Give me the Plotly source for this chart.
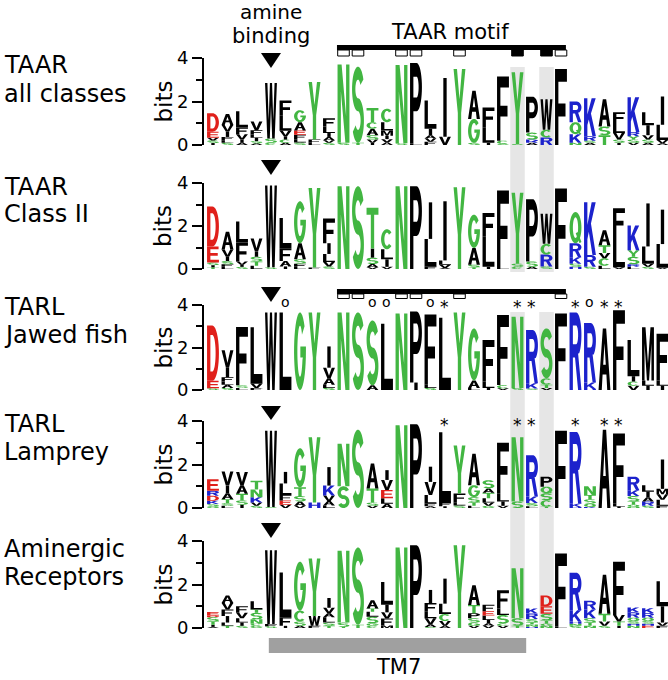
import math
import plotly.graph_objects as go

# ---------------- data ----------------
ROW_TITLES = [["TAAR", "all classes"], ["TAAR", "Class II"], ["TARL", "Jawed fish"],
              ["TARL", "Lamprey"], ["Aminergic", "Receptors"]]

# each column: residues from top to bottom with their height in bits
TAAR_ALL = [
    [("D", .85), ("E", .28), ("V", .12), ("S", .12), ("I", .09)],
    [("A", .50), ("V", .30), ("I", .25), ("F", .15), ("L", .12), ("S", .10)],
    [("L", .75), ("F", .30), ("V", .25), ("I", .15), ("A", .10)],
    [("V", .40), ("F", .20), ("L", .15), ("I", .15), ("S", .10), ("A", .08)],
    [("W", 2.55), ("S", .20), ("C", .10)],
    [("F", .70), ("L", .70), ("V", .25), ("I", .15), ("C", .15), ("A", .10)],
    [("G", .55), ("A", .38), ("E", .20), ("F", .20), ("L", .15), ("S", .12)],
    [("Y", 2.65), ("F", .15), ("L", .10)],
    [("F", .38), ("L", .30), ("I", .18), ("A", .15), ("V", .12), ("S", .10)],
    [("N", 3.60), ("S", .10)],
    [("S", 3.50), ("T", .10)],
    [("T", .65), ("C", .30), ("A", .30), ("S", .20), ("V", .15), ("I", .10)],
    [("C", .62), ("L", .38), ("M", .25), ("I", .15), ("V", .15), ("A", .12)],
    [("N", 3.60), ("S", .08)],
    [("P", 3.70), ("L", .07)],
    [("L", 1.30), ("I", .30), ("A", .15), ("V", .15), ("F", .15)],
    [("I", 2.70), ("V", .38)],
    [("Y", 3.50)],
    [("A", 1.30), ("G", 1.10), ("S", .10)],
    [("F", .90), ("L", .72), ("I", .10)],
    [("F", 2.95), ("C", .15), ("S", .05)],
    [("Y", 3.30), ("S", .05)],
    [("P", 1.65), ("S", .32), ("R", .15), ("A", .10)],
    [("W", 1.40), ("C", .35), ("R", .35)],
    [("F", 3.50)],
    [("R", .95), ("Q", .55), ("K", .40), ("N", .10)],
    [("K", 1.75), ("R", .20), ("S", .10), ("A", .10)],
    [("A", 1.25), ("S", .40), ("T", .45)],
    [("F", .50), ("L", .46), ("V", .30), ("S", .15), ("I", .10)],
    [("K", 1.60), ("R", .20), ("Y", .15), ("S", .15), ("V", .10)],
    [("L", .60), ("I", .46), ("V", .20), ("S", .15), ("A", .10)],
    [("I", 1.30), ("L", .70), ("V", .15), ("A", .08)],
]

TAAR_CLASS2 = [
    [("D", 1.86), ("E", .75), ("S", .12), ("I", .10), ("T", .08)],
    [("A", .82), ("V", .34), ("I", .20), ("S", .15), ("F", .12), ("L", .10)],
    [("L", .98), ("F", .88), ("V", .15), ("I", .10), ("S", .10)],
    [("V", .60), ("I", .25), ("S", .22), ("T", .20), ("L", .15)],
    [("W", 3.80), ("S", .08)],
    [("L", 1.40), ("F", .60), ("A", .25), ("I", .12)],
    [("G", 1.95), ("A", .75), ("S", .20), ("F", .15), ("L", .10)],
    [("Y", 3.70), ("F", .07)],
    [("F", 1.15), ("I", .50), ("L", .38), ("V", .20), ("S", .12)],
    [("N", 3.85)],
    [("S", 3.85)],
    [("T", 1.90), ("I", .42), ("S", .30), ("A", .15), ("V", .08)],
    [("C", .93), ("L", .47), ("I", .35), ("V", .10)],
    [("N", 3.85)],
    [("P", 3.85)],
    [("I", 1.70), ("L", 1.30), ("F", .10)],
    [("I", 2.75), ("L", .20), ("V", .15), ("A", .05)],
    [("Y", 3.80)],
    [("G", 1.55), ("A", .78), ("S", .12), ("T", .08)],
    [("F", 1.10), ("L", 1.40), ("I", .10)],
    [("F", 3.60), ("L", .05)],
    [("Y", 3.30), ("S", .15), ("C", .10)],
    [("P", 2.90), ("S", .25), ("A", .10)],
    [("W", 1.40), ("C", .50), ("R", .55), ("S", .12)],
    [("F", 3.75)],
    [("Q", 1.45), ("R", .65), ("K", .30), ("S", .15), ("H", .10)],
    [("K", 2.45), ("R", .55), ("S", .10)],
    [("A", .70), ("T", .35), ("V", .25), ("C", .35), ("L", .15)],
    [("F", 1.30), ("L", 1.45), ("V", .08)],
    [("K", 1.15), ("Y", .30), ("S", .35), ("R", .12), ("L", .10)],
    [("I", 2.00), ("L", .80), ("V", .15), ("S", .10)],
    [("I", 1.60), ("L", 1.10), ("V", .06)],
]

TARL_FISH = [
    [("D", 2.60), ("E", .35), ("S", .08)],
    [("V", .80), ("I", .47), ("F", .20), ("L", .15), ("A", .15), ("S", .10)],
    [("F", 2.75), ("S", .12), ("L", .10)],
    [("L", 2.65), ("V", .20), ("F", .10)],
    [("W", 3.65)],
    [("L", 3.65)],
    [("G", 3.65)],
    [("Y", 3.65)],
    [("I", 1.00), ("V", .50), ("A", .30), ("L", .15), ("S", .10)],
    [("N", 3.65)],
    [("S", 3.65)],
    [("S", 3.05), ("A", .22)],
    [("L", 3.12)],
    [("N", 3.60)],
    [("P", 3.35), ("I", .35)],
    [("F", 3.30), ("L", .15), ("S", .10)],
    [("L", 3.40)],
    [("Y", 3.65)],
    [("G", 2.45), ("A", .35), ("L", .10)],
    [("F", 1.95), ("L", .30), ("I", .10)],
    [("F", 3.30), ("C", .15), ("V", .08)],
    [("N", 3.35), ("S", .10)],
    [("R", 2.50), ("K", .25), ("S", .07)],
    [("S", 2.35), ("C", .30), ("T", .15), ("V", .10)],
    [("F", 3.60)],
    [("R", 3.65)],
    [("R", 2.80), ("K", .30), ("H", .05)],
    [("A", 2.90)],
    [("F", 3.75)],
    [("L", 1.70), ("I", .25), ("C", .20), ("V", .20)],
    [("M", 2.50), ("L", .25), ("I", .20)],
    [("F", 2.20), ("L", .25), ("I", .20)],
]

TARL_LAMPREY = [
    [("E", .53), ("R", .23), ("D", .23), ("K", .15), ("S", .10), ("Q", .08)],
    [("V", .65), ("I", .35), ("A", .28), ("T", .18), ("S", .12), ("L", .10)],
    [("V", .60), ("A", .40), ("T", .30), ("S", .20), ("I", .15)],
    [("T", .40), ("N", .35), ("K", .25), ("V", .15), ("S", .10)],
    [("W", 3.50), ("S", .05)],
    [("I", .53), ("L", .53), ("F", .25), ("E", .20), ("V", .15)],
    [("G", 1.80), ("T", .40), ("S", .25), ("A", .20), ("V", .10)],
    [("Y", 3.00), ("H", .25)],
    [("I", .85), ("K", .46), ("V", .25), ("A", .20), ("L", .12)],
    [("N", 1.95), ("S", 1.00)],
    [("S", 3.60)],
    [("A", 1.15), ("T", .65), ("S", .15), ("V", .10)],
    [("I", .45), ("V", .46), ("E", .38), ("L", .25), ("A", .20)],
    [("N", 3.80)],
    [("P", 3.85)],
    [("I", .70), ("V", .60), ("L", .40), ("F", .12), ("A", .08)],
    [("L", 3.25), ("F", .15), ("I", .08)],
    [("Y", 2.20), ("F", .40), ("L", .15), ("S", .12)],
    [("A", 1.45), ("G", .55), ("S", .25), ("T", .15), ("L", .10)],
    [("S", .38), ("A", .20), ("T", .25), ("L", .20), ("V", .15), ("G", .10)],
    [("F", 2.35), ("L", .35), ("I", .20), ("V", .10)],
    [("N", 2.95), ("S", .30)],
    [("R", 1.90), ("K", .30), ("S", .15), ("L", .08)],
    [("P", .46), ("Q", .30), ("S", .32), ("C", .30), ("T", .06)],
    [("F", 3.55)],
    [("R", 3.30), ("K", .15), ("H", .05)],
    [("N", .40), ("T", .20), ("S", .20), ("Q", .15), ("K", .05)],
    [("A", 3.60)],
    [("F", 3.20), ("L", .15), ("I", .07)],
    [("R", .62), ("K", .27), ("S", .25), ("T", .15), ("Q", .10), ("N", .05)],
    [("L", .30), ("I", .25), ("A", .20), ("R", .20), ("S", .10)],
    [("I", 1.35), ("M", .25), ("V", .25), ("L", .28), ("F", .10)],
]

AMINERGIC = [
    [("E", .15), ("D", .08), ("S", .20), ("T", .15), ("I", .10), ("A", .05)],
    [("A", .35), ("V", .30), ("F", .30), ("I", .30), ("L", .15), ("T", .10)],
    [("F", .30), ("V", .25), ("L", .20), ("I", .15), ("S", .10)],
    [("L", .38), ("T", .15), ("S", .30), ("N", .20), ("C", .10), ("G", .10)],
    [("W", 3.40), ("F", .10), ("S", .08)],
    [("L", 2.05), ("F", .40), ("I", .10)],
    [("G", 2.25), ("C", .50), ("S", .20), ("A", .10)],
    [("Y", 2.65), ("W", .45), ("F", .10)],
    [("I", .45), ("V", .25), ("A", .18), ("L", .25), ("S", .15), ("T", .10)],
    [("N", 3.30), ("S", .20), ("T", .05)],
    [("S", 3.55), ("T", .15)],
    [("A", .38), ("T", .15), ("L", .23), ("S", .30), ("G", .12), ("C", .10)],
    [("L", 1.05), ("I", .35), ("V", .28), ("F", .32), ("M", .12)],
    [("N", 3.70)],
    [("P", 3.80)],
    [("I", .60), ("F", .40), ("L", .30), ("V", .28), ("A", .12), ("S", .05)],
    [("I", 1.15), ("L", .48), ("C", .32), ("V", .22), ("A", .10)],
    [("Y", 3.80)],
    [("A", .90), ("T", .38), ("P", .23), ("S", .20), ("G", .15), ("V", .10)],
    [("F", .30), ("E", .20), ("L", .20), ("I", .15), ("A", .12), ("V", .10)],
    [("F", .84), ("L", .30), ("S", .40), ("C", .10), ("V", .10)],
    [("N", 2.30), ("S", .35), ("T", .10)],
    [("K", .23), ("R", .26), ("S", .15), ("T", .10), ("N", .10), ("H", .06)],
    [("D", .50), ("E", .35), ("S", .30), ("T", .15), ("G", .10), ("N", .10)],
    [("F", 3.35), ("L", .07)],
    [("R", 1.72), ("K", .52), ("H", .10), ("N", .10), ("S", .10)],
    [("R", .40), ("K", .40), ("S", .20), ("T", .15), ("N", .10)],
    [("A", 1.80), ("T", .35), ("V", .20), ("S", .10)],
    [("F", 2.45), ("V", .30), ("T", .20), ("I", .10)],
    [("K", .22), ("R", .25), ("Q", .15), ("S", .12), ("H", .10), ("N", .10)],
    [("K", .22), ("R", .22), ("Q", .15), ("S", .12), ("H", .10), ("E", .10)],
    [("L", 1.15), ("I", .75), ("V", .15), ("F", .10)],
]

ROWS = [TAAR_ALL, TAAR_CLASS2, TARL_FISH, TARL_LAMPREY, AMINERGIC]

MOTIF_OPEN = [9, 10, 13, 14, 17, 24]
MOTIF_FILLED_ROW1 = [21, 23]
HIGHLIGHT_COLS = [21, 23]
AMINE_COL = 4
ROW3_CIRCLES = [5, 11, 12, 15, 26]
ROW3_STARS = [16, 21, 22, 25, 27, 28]
ROW4_STARS = [16, 21, 22, 25, 27, 28]

# ---------------- styling / geometry ----------------
W_PX, H_PX = 668, 680
FONT = "DejaVu Sans"
GREEN, BLUE, RED, BLACK = "#42b642", "#1c22cc", "#e0201b", "#000000"
COLOR = {}
for c in "AVLIPWFM":
    COLOR[c] = BLACK
for c in "GSTYCNQ":
    COLOR[c] = GREEN
for c in "KRH":
    COLOR[c] = BLUE
for c in "DE":
    COLOR[c] = RED

Y4_PX = [58, 183, 305, 421, 541]
Y0_PX = [145, 269, 390, 508, 628]
X_LEFT_PX = 204
X_RANGE = [-0.62, 31.38]


def px_y(p):
    return 1 - p / H_PX


def px_x(p):
    return p / W_PX


# ---------------- glyph outlines (unit box) ----------------
SX, SY = 0.28, 0.17


def arc(cx, cy, rx, ry, a0, a1, step=9):
    n = max(2, int(math.ceil(abs(a1 - a0) / step)))
    out = []
    for k in range(n + 1):
        a = math.radians(a0 + (a1 - a0) * k / n)
        out.append((cx + rx * math.cos(a), cy + ry * math.sin(a)))
    return out


def build_glyphs():
    g = {}
    m = 0.5
    g["L"] = [[[(0, 0), (1, 0), (1, SY), (SX, SY), (SX, 1), (0, 1)]]]
    g["I"] = [[[(0.36, 0), (0.64, 0), (0.64, 1), (0.36, 1)]]]
    g["E"] = [[[(0, 0), (1, 0), (1, SY), (SX, SY), (SX, m - SY / 2), (0.9, m - SY / 2), (0.9, m + SY / 2),
                (SX, m + SY / 2), (SX, 1 - SY), (0.97, 1 - SY), (0.97, 1), (0, 1)]]]
    fm = 0.46
    g["F"] = [[[(0, 0), (SX, 0), (SX, fm - SY / 2), (0.88, fm - SY / 2), (0.88, fm + SY / 2), (SX, fm + SY / 2),
                (SX, 1 - SY), (1, 1 - SY), (1, 1), (0, 1)]]]
    g["T"] = [[[(0.5 - SX / 2, 0), (0.5 + SX / 2, 0), (0.5 + SX / 2, 1 - SY), (1, 1 - SY), (1, 1), (0, 1),
                (0, 1 - SY), (0.5 - SX / 2, 1 - SY)]]]
    g["H"] = [[[(0, 0), (SX, 0), (SX, m - SY / 2), (1 - SX, m - SY / 2), (1 - SX, 0), (1, 0), (1, 1), (1 - SX, 1),
                (1 - SX, m + SY / 2), (SX, m + SY / 2), (SX, 1), (0, 1)]]]
    g["N"] = [[[(0, 0), (SX, 0), (SX, 0.66), (1 - SX - 0.06, 0), (1, 0), (1, 1), (1 - SX, 1), (1 - SX, 0.34),
                (SX + 0.06, 1), (0, 1)]]]
    g["M"] = [[[(0, 0), (0.21, 0), (0.21, 0.7), (0.41, 0), (0.59, 0), (0.79, 0.7), (0.79, 0), (1, 0), (1, 1),
                (0.71, 1), (0.5, 0.32), (0.29, 1), (0, 1)]]]
    g["W"] = [[[(0, 1), (0.2, 1), (0.31, 0.33), (0.41, 1), (0.59, 1), (0.69, 0.33), (0.8, 1), (1, 1), (0.81, 0),
                (0.6, 0), (0.5, 0.6), (0.4, 0), (0.19, 0)]]]
    g["V"] = [[[(0, 1), (0.27, 1), (0.5, 0.25), (0.73, 1), (1, 1), (0.64, 0), (0.36, 0)]]]
    g["Y"] = [[[(0, 1), (0.29, 1), (0.5, 0.6), (0.71, 1), (1, 1), (0.64, 0.42), (0.64, 0), (0.36, 0),
                (0.36, 0.42)]]]
    g["K"] = [[[(0, 0), (SX, 0), (SX, 0.3), (0.4, 0.44), (0.71, 0), (1, 0), (0.58, 0.6), (0.98, 1), (0.64, 1),
                (SX, 0.57), (SX, 1), (0, 1)]]]
    g["A"] = [[[(0, 0), (0.27, 0), (0.34, 0.25), (0.66, 0.25), (0.73, 0), (1, 0), (0.64, 1), (0.36, 1)],
               [(0.39, 0.41), (0.61, 0.41), (0.5, 0.76)]]]
    g["C"] = [[arc(.5, .5, .5, .5, 42, 318) + arc(.5, .5, .5 - SX, .5 - SY, 318, 42)]]
    ring = [arc(.5, .5, .5, .5, 0, 360), arc(.5, .5, .5 - SX, .5 - SY, 0, 360)]
    g["Q"] = [ring, [[(0.52, 0.32), (0.68, 0.36), (1.0, 0.04), (0.84, 0.0)]]]
    g["G"] = [[arc(.5, .5, .5, .5, 40, 360) + [(1, 0.56), (0.53, 0.56), (0.53, 0.42), (0.74, 0.42)]
               + arc(.5, .5, .5 - SX, .5 - SY, 340, 40)]]
    hx, hy = SX / 2, SY / 2
    cy1 = (1 - hy + 0.5) / 2
    cy2 = (0.5 + hy) / 2
    ry = (1 - hy - 0.5) / 2
    rx = 0.5 - hx
    side_a = arc(.5, cy1, rx + hx, ry + hy, 25, 270) + arc(.5, cy2, rx - hx, ry - hy, 90, -150)
    side_b = arc(.5, cy1, rx - hx, ry - hy, 25, 270) + arc(.5, cy2, rx + hx, ry + hy, 90, -150)
    g["S"] = [[side_a + side_b[::-1]]]
    g["D"] = [[[(0, 0), (0.45, 0)] + arc(0.45, 0.5, 0.55, 0.5, -90, 90) + [(0, 1)],
               [(SX, SY)] + arc(0.45, 0.5, 0.55 - SX, 0.5 - SY, -90, 90) + [(SX, 1 - SY)]]]
    g["P"] = [[[(0, 0), (SX, 0), (SX, 0.4)] + arc(0.55, 0.7, 0.45, 0.3, -90, 90) + [(0, 1)],
               [(SX, 0.4 + SY)] + arc(0.55, 0.7, 0.45 - SX, 0.3 - SY, -90, 90) + [(SX, 1 - SY)]]]
    g["R"] = [[[(0, 0), (SX, 0), (SX, 0.42), (0.46, 0.42), (0.72, 0), (1, 0), (0.72, 0.47)]
               + arc(0.56, 0.71, 0.44, 0.29, -55, 90) + [(0, 1)],
               [(SX, 0.42 + SY)] + arc(0.56, 0.71, 0.44 - SX, 0.29 - SY, -90, 90) + [(SX, 1 - SY)]]]
    return g


GLYPHS = build_glyphs()
GLYPH_W = 0.82


def glyph_paths(letter, xc, base, h):
    x0 = xc - GLYPH_W / 2
    paths = []
    for sub in GLYPHS[letter]:
        s = ""
        for poly in sub:
            pts = [(x0 + gx * GLYPH_W, base + gy * h) for gx, gy in poly]
            s += "M" + "L".join(f"{x:.3f},{y:.4f}" for x, y in pts) + "Z"
        paths.append(s)
    return paths


# ---------------- figure ----------------
fig = go.Figure()
shapes = []
annotations = []
layout_axes = {}

for r, row in enumerate(ROWS):
    n = "" if r == 0 else str(r + 1)
    xa, ya = "x" + n, "y" + n
    layout_axes["xaxis" + n] = dict(domain=[px_x(X_LEFT_PX), 1], range=X_RANGE, visible=False,
                                    anchor=ya, fixedrange=True, automargin=False)
    layout_axes["yaxis" + n] = dict(
        domain=[px_y(Y0_PX[r]), px_y(Y4_PX[r])], range=[0, 4], anchor=xa, automargin=False,
        showline=True, linewidth=2, linecolor="black", ticks="outside", ticklen=10, tickwidth=2,
        tickcolor="black", tickvals=[0, 2, 4], showgrid=False, zeroline=False,
        tickfont=dict(family=FONT, size=18, color="black"), fixedrange=True,
        minor=dict(tickvals=[1, 3], ticks="outside", ticklen=6, tickwidth=2, tickcolor="black", showgrid=False))
    fig.add_trace(go.Scatter(x=[None], y=[None], xaxis=xa, yaxis=ya, showlegend=False, hoverinfo="skip"))

    for i, col in enumerate(row):
        base = 0.0
        for letter, h in reversed(col):
            for p in glyph_paths(letter, i, base, h):
                shapes.append(dict(type="path", path=p, xref=xa, yref=ya, fillcolor=COLOR[letter],
                                   line=dict(width=0), layer="above"))
            base += h

    # row titles
    base1 = [73, 195, 315, 432, 557][r]
    base2 = [102, 222, 343, 460, 585][r]
    for txt, bl in ((ROW_TITLES[r][0], base1), (ROW_TITLES[r][1], base2)):
        annotations.append(dict(text=txt, x=px_x(2), y=px_y(bl - 0.346 * 24), xref="paper", yref="paper",
                                xanchor="left", yanchor="middle", showarrow=False,
                                font=dict(family=FONT, size=24, color="black")))
    # "bits"
    annotations.append(dict(text="bits", x=px_x(163), y=px_y((Y0_PX[r] + Y4_PX[r]) / 2), xref="paper",
                            yref="paper", xanchor="center", yanchor="middle", textangle=-90, showarrow=False,
                            font=dict(family=FONT, size=23, color="black")))

# amine-binding triangles
TRI_PX = [(53, 68), (160, 175), (287, 302), (406, 420), (523, 538)]
for top, bot in TRI_PX:
    shapes.append(dict(type="path", xref="x", yref="paper",
                       path=f"M{AMINE_COL - 0.69},{px_y(top)}L{AMINE_COL + 0.69},{px_y(top)}L{AMINE_COL},{px_y(bot)}Z",
                       fillcolor="black", line=dict(width=0)))

# highlighted columns
for c in HIGHLIGHT_COLS:
    for top, bot in ((67, 272), (312, 628)):
        shapes.append(dict(type="rect", xref="x", yref="paper", x0=c - 0.5, x1=c + 0.5, y0=px_y(bot), y1=px_y(top),
                           fillcolor="#e6e6e6", line=dict(width=0), layer="below"))

# motif bars with boxes
for bar_top, bar_bot, box_bot, filled in ((45, 50, 56, MOTIF_FILLED_ROW1), (289, 294, 298.5, [])):
    shapes.append(dict(type="rect", xref="x", yref="paper", x0=8.55, x1=24.34, y0=px_y(bar_bot), y1=px_y(bar_top),
                       fillcolor="black", line=dict(width=0)))
    for c in MOTIF_OPEN:
        shapes.append(dict(type="rect", xref="x", yref="paper", x0=c - 0.4, x1=c + 0.4, y0=px_y(box_bot),
                           y1=px_y(bar_bot), fillcolor="white", line=dict(width=1, color="black")))
    for c in filled:
        shapes.append(dict(type="rect", xref="x", yref="paper", x0=c - 0.4, x1=c + 0.4, y0=px_y(box_bot),
                           y1=px_y(bar_bot), fillcolor="black", line=dict(width=1, color="black")))

# TM7 bar
shapes.append(dict(type="rect", xref="x", yref="paper", x0=3.85, x1=21.6, y0=px_y(653), y1=px_y(638),
                   fillcolor="#a0a0a0", line=dict(width=0)))

# markers (o / *)
for c in ROW3_CIRCLES:
    annotations.append(dict(text="o", x=c, y=px_y(302), xref="x", yref="paper", showarrow=False,
                            xanchor="center", yanchor="middle", font=dict(family=FONT, size=14, color="black")))
for c in ROW3_STARS:
    annotations.append(dict(text="*", x=c, y=px_y(307), xref="x", yref="paper", showarrow=False,
                            xanchor="center", yanchor="middle", font=dict(family=FONT, size=17, color="black")))
for c in ROW4_STARS:
    annotations.append(dict(text="*", x=c, y=px_y(425), xref="x", yref="paper", showarrow=False,
                            xanchor="center", yanchor="middle", font=dict(family=FONT, size=17, color="black")))

# header / footer texts
for txt, x, bl, size in (("amine", AMINE_COL, 19, 20), ("binding", AMINE_COL, 43, 21),
                         ("TAAR motif", 16.35, 39, 21), ("TM7", 12.76, 674, 21)):
    annotations.append(dict(text=txt, x=x, y=px_y(bl - 0.346 * size), xref="x", yref="paper", showarrow=False,
                            xanchor="center", yanchor="middle", font=dict(family=FONT, size=size, color="black")))

fig.update_layout(width=W_PX, height=H_PX, margin=dict(l=0, r=0, t=0, b=0, autoexpand=False),
                  paper_bgcolor="white", plot_bgcolor="rgba(0,0,0,0)", showlegend=False,
                  shapes=shapes, annotations=annotations, **layout_axes)

fig.write_html("out.html", config={"displayModeBar": False},
               post_script="document.body.style.margin='0';document.body.style.overflow='hidden';")
